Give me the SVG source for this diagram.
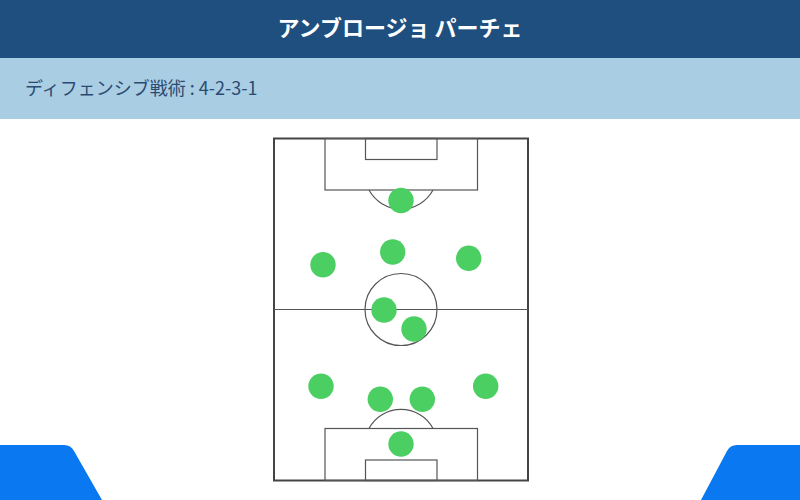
<svg xmlns="http://www.w3.org/2000/svg" width="800" height="500" viewBox="0 0 800 500">
<style>
.title{font-family:"Noto Sans CJK JP","Noto Sans",sans-serif;font-size:22px;font-weight:bold;fill:#ffffff}
.sub{font-family:"Noto Sans CJK JP","Noto Sans",sans-serif;font-size:18px;fill:#2b4a72}
.line{fill:none;stroke:#555;stroke-width:1.2}
.outer{fill:#fff;stroke:#444;stroke-width:2}
.p{fill:#4ccf62}
.tab{fill:#0a78f0}
</style>
<rect width="800" height="500" fill="#fff"/>
<g id="header">
<rect x="0" y="0" width="800" height="58" fill="#1f4f7e"/>
<text class="title" x="400" y="36" text-anchor="middle">アンブロージョ パーチェ</text>
</g>
<g id="subheader">
<rect x="0" y="58" width="800" height="61" fill="#a9cde2"/>
<text class="sub" x="25" y="95">ディフェンシブ戦術 : 4-2-3-1</text>
</g>
<g id="pitch">
<rect class="outer" x="274" y="138.5" width="254" height="342"/>
<line class="line" x1="274" y1="309.5" x2="528" y2="309.5"/>
<circle class="line" cx="401" cy="309.5" r="36"/>
<rect class="line" x="325" y="138.5" width="152.5" height="51.5"/>
<rect class="line" x="365.5" y="138.5" width="71.5" height="21"/>
<path class="line" d="M369 190 A36.4 36.4 0 0 0 433 190"/>
<rect class="line" x="325" y="428.5" width="152.5" height="52"/>
<rect class="line" x="365.5" y="460" width="71.5" height="20.5"/>
<path class="line" d="M369 428.5 A36.4 36.4 0 0 1 433 428.5"/>
</g>
<g id="players">
<circle class="p" cx="401" cy="200.5" r="12.7"/>
<circle class="p" cx="323" cy="264.7" r="12.7"/>
<circle class="p" cx="392.7" cy="252" r="12.7"/>
<circle class="p" cx="468.7" cy="258.3" r="12.7"/>
<circle class="p" cx="384" cy="310" r="12.7"/>
<circle class="p" cx="414" cy="329" r="12.7"/>
<circle class="p" cx="321" cy="386.3" r="12.7"/>
<circle class="p" cx="380.3" cy="399.3" r="12.7"/>
<circle class="p" cx="422.3" cy="399.3" r="12.7"/>
<circle class="p" cx="485.7" cy="386.3" r="12.7"/>
<circle class="p" cx="401" cy="444" r="12.7"/>
</g>
<g id="tabs">
<path class="tab" d="M0 445 L64 445 Q71 445 74 451 L102 500 L0 500 Z"/>
<path class="tab" d="M800 445 L737 445 Q730 445 727 451 L701 500 L800 500 Z"/>
</g>
</svg>
